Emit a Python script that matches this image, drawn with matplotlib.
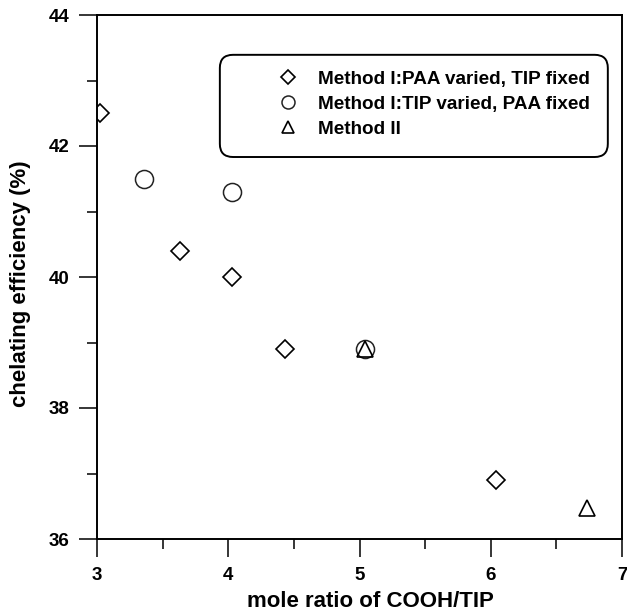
import matplotlib
matplotlib.use("Agg")
import matplotlib.pyplot as plt
from matplotlib.patches import FancyBboxPatch
from matplotlib.ticker import MultipleLocator

# Data
paa_varied_x = [3.02, 3.63, 4.03, 4.43, 6.04]
paa_varied_y = [42.5, 40.4, 40.0, 38.9, 36.9]
tip_varied_x = [3.36, 4.03, 5.04]
tip_varied_y = [41.5, 41.3, 38.9]
method2_x = [5.04, 6.73]
method2_y = [38.9, 36.47]

labels = ["Method I:PAA varied, TIP fixed",
          "Method I:TIP varied, PAA fixed",
          "Method II"]

plt.rcParams['font.family'] = ['Liberation Sans', 'DejaVu Sans']
plt.rcParams['font.weight'] = 'bold'

fig = plt.figure(figsize=(6.27, 6.16), dpi=100)
ax = fig.add_axes([97 / 627, 77 / 616, 525 / 627, 524 / 616])

# plot the three series as open markers
ax.plot(paa_varied_x, paa_varied_y, linestyle='none', marker='D', markersize=9.2,
        markerfacecolor='none', markeredgecolor='black', markeredgewidth=1.2, label=labels[0])
ax.plot(tip_varied_x, tip_varied_y, linestyle='none', marker='o', markersize=13,
        markerfacecolor='none', markeredgecolor='#222222', markeredgewidth=1.1, label=labels[1])
ax.plot(method2_x, method2_y, linestyle='none', marker='^', markersize=11.5,
        markerfacecolor='none', markeredgecolor='black', markeredgewidth=1.2, label=labels[2])

ax.set_xlim(3, 7)
ax.set_ylim(36, 44)
ax.xaxis.set_major_locator(MultipleLocator(1))
ax.xaxis.set_minor_locator(MultipleLocator(0.5))
ax.yaxis.set_major_locator(MultipleLocator(2))
ax.yaxis.set_minor_locator(MultipleLocator(1))

ax.tick_params(which='major', direction='out', length=13, width=1.1, pad=7, labelsize=13.5)
ax.tick_params(which='minor', direction='out', length=7, width=1.1)
ax.tick_params(top=False, right=False, which='both')
for lbl in ax.get_xticklabels() + ax.get_yticklabels():
    lbl.set_fontweight('bold')

for spine in ax.spines.values():
    spine.set_linewidth(1.4)

ax.set_xlabel('mole ratio of COOH/TIP', fontsize=16, fontweight='bold')
ax.set_ylabel('chelating efficiency (%)', fontsize=16, fontweight='bold')
ax.xaxis.set_label_coords(0.52, -0.099)
ax.yaxis.set_label_coords(-0.125, 0.487)

# rounded legend box drawn separately, legend content without frame
box = FancyBboxPatch((0.234, 0.729), 0.739, 0.195, transform=ax.transAxes,
                     boxstyle='round,pad=0,rounding_size=0.025',
                     facecolor='white', edgecolor='black', linewidth=1.4, zorder=3)
ax.add_patch(box)
leg = ax.legend(loc='upper left', bbox_to_anchor=(0.346, 0.894), frameon=False,
                borderpad=0, borderaxespad=0, handlelength=1.0, handletextpad=1.09,
                labelspacing=0.42, markerscale=0.72, prop={'size': 13.6, 'weight': 'bold'})
leg.set_zorder(4)

fig.savefig('out.png', dpi=100)
